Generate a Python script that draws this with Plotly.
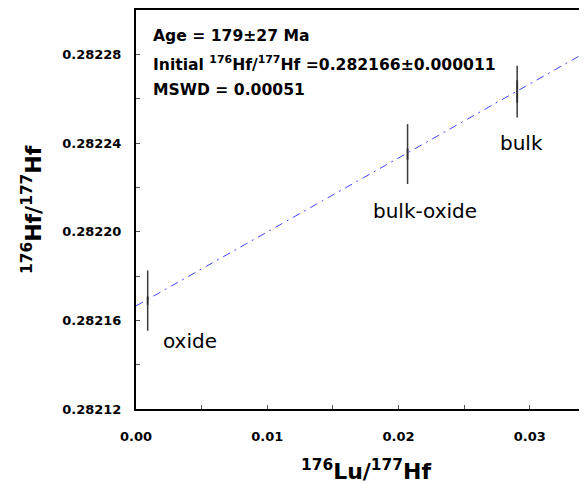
import plotly.graph_objects as go

# ---- data ----
samples = ["oxide", "bulk-oxide", "bulk"]
lu_hf = [0.00089, 0.02069, 0.02904]
hf_hf = [0.2821689, 0.2822350, 0.2822632]
hf_err = [0.0000136, 0.0000135, 0.0000117]

# isochron (regression line) end points
iso_x = [0.0, 0.03436]
iso_y = [0.2821665, 0.2822812]

x_ticks = [0.00, 0.01, 0.02, 0.03]
y_ticks = [0.28212, 0.28216, 0.28220, 0.28224, 0.28228]

info_lines = [
    "Age = 179±27 Ma",
    "Initial <sup>176</sup>Hf/<sup>177</sup>Hf =0.282166±0.000011",
    "MSWD = 0.00051",
]

# page has an 8px body margin; compensate so the plot lands where the reference has it
OFF = 8
W, H = 587 - OFF, 485 - OFF
L, R, T = 136 - OFF, 0, 10 - OFF
B = H - T - 399
PW, PH = W - L - R, H - T - B


def px(x):
    return (x - OFF - L) / PW


def py(y):
    return (H - B - (y - OFF)) / PH


FONT = "DejaVu Sans"

fig = go.Figure()

fig.add_trace(go.Scatter(
    x=iso_x, y=iso_y, mode="lines",
    line=dict(color="rgb(70,70,255)", width=1, dash="8px,5px,2px,5px"),
    hoverinfo="skip", showlegend=False,
))

fig.add_trace(go.Scatter(
    x=lu_hf, y=hf_hf, mode="markers",
    marker=dict(symbol="line-ns", size=[6, 8, 16], color="#222",
                line=dict(color="#222", width=2)),
    error_y=dict(type="data", array=hf_err, visible=True,
                 color="#3a3a3a", thickness=1.5, width=0),
    showlegend=False,
))

annotations = []
line_y = [35.5, 63.5, 90]
for txt, yy in zip(info_lines, line_y):
    annotations.append(dict(
        text=txt, x=px(151), y=py(yy), xref="paper", yref="paper",
        xanchor="left", yanchor="middle", showarrow=False,
        font=dict(family=FONT, size=15.6, color="black", weight="bold"),
    ))

label_pos = [(190, 341), (425, 211), (521, 143)]
for name, (lx, ly) in zip(samples, label_pos):
    annotations.append(dict(
        text=name, x=px(lx), y=py(ly), xref="paper", yref="paper",
        xanchor="center", yanchor="middle", showarrow=False,
        font=dict(family=FONT, size=20, color="black"),
    ))

annotations.append(dict(
    text="<sup>176</sup>Lu/<sup>177</sup>Hf", x=px(366), y=py(470),
    xref="paper", yref="paper", xanchor="center", yanchor="middle",
    showarrow=False, font=dict(family=FONT, size=22, color="black", weight="bold"),
))
annotations.append(dict(
    text="<sup>176</sup>Hf/<sup>177</sup>Hf", x=px(32), y=py(210),
    xref="paper", yref="paper", xanchor="center", yanchor="middle",
    textangle=-90, showarrow=False,
    font=dict(family=FONT, size=22, color="black", weight="bold"),
))

fig.update_layout(
    width=W, height=H,
    margin=dict(l=L, r=R, t=T, b=B, pad=0, autoexpand=False),
    paper_bgcolor="white", plot_bgcolor="white",
    annotations=annotations,
    showlegend=False,
)

fig.update_xaxes(
    range=[0, 0.03436], tickvals=x_ticks, tickformat=".2f",
    showgrid=False, zeroline=False, automargin=False,
    showline=True, linecolor="black", linewidth=2, mirror=True,
    ticks="inside", ticklen=4, tickwidth=1, tickcolor="#555",
    minor=dict(ticks="inside", ticklen=4, tickwidth=1, tickcolor="#555",
               dtick=0.005, tick0=0),
    ticklabelstandoff=14,
    tickfont=dict(family=FONT, size=13, color="black", weight="bold"),
)
fig.update_yaxes(
    range=[0.28212, 0.2823], tickvals=y_ticks, tickformat=".5f",
    showgrid=False, zeroline=False, automargin=False,
    showline=True, linecolor="black", linewidth=2, mirror=False,
    ticks="inside", ticklen=4, tickwidth=1, tickcolor="#555",
    minor=dict(ticks="inside", ticklen=4, tickwidth=1, tickcolor="#555",
               dtick=0.00002, tick0=0.28212),
    ticklabelstandoff=10,
    tickfont=dict(family=FONT, size=13, color="black", weight="bold"),
)

fig.write_html("out.html")
